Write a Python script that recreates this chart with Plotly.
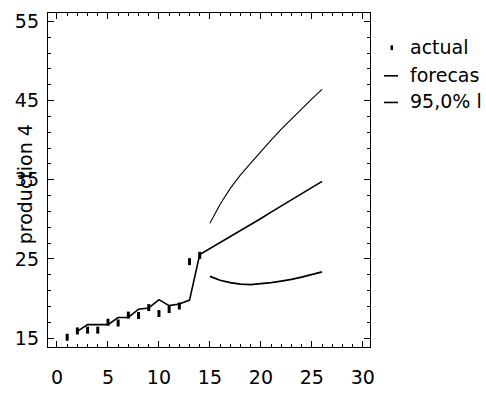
import plotly.graph_objects as go

# ---- data ----
actual_x = [1, 2, 3, 4, 5, 6, 7, 8, 9, 10, 11, 12, 13, 14]
actual_y = [15.1, 15.9, 16.0, 16.0, 17.0, 16.9, 17.9, 17.85, 18.85, 18.1, 18.6, 19.05, 24.65, 25.45]

forecast_x = [2, 3, 4, 5, 6, 7, 8, 9, 10, 11, 12, 13, 14,
              15, 16, 17, 18, 19, 20, 21, 22, 23, 24, 25, 26]
forecast_y = [15.85, 16.7, 16.7, 16.7, 17.6, 17.6, 18.65, 18.8, 19.85, 19.1, 19.3, 19.8, 25.55,
              26.3, 27.0, 27.8, 28.6, 29.3, 30.1, 30.9, 31.7, 32.5, 33.2, 34.0, 34.8]

limit_x = [15, 16, 17, 18, 19, 20, 21, 22, 23, 24, 25, 26]
upper_y = [29.5, 31.9, 33.9, 35.6, 37.1, 38.6, 40.0, 41.4, 42.7, 44.0, 45.2, 46.4]
lower_y = [22.8, 22.3, 22.0, 21.8, 21.75, 21.85, 22.0, 22.2, 22.4, 22.7, 23.0, 23.35]

x_ticks = [0, 5, 10, 15, 20, 25, 30]
y_ticks = [15, 25, 35, 45, 55]
legend_labels = ["actual", "forecas", "95,0% l"]  # as visible (truncated) in the reference
y_title = "production 4"

FONT = "DejaVu Sans"
W, H = 486, 398
L, R, T, B = 48, 116, 10, 37
PW, PH = W - L - R, H - T - B

def px(xp):
    return (xp - L) / PW

def py(yp):
    return (H - B - yp) / PH

fig = go.Figure()
fig.add_trace(go.Scatter(x=actual_x, y=actual_y, mode="markers",
                         marker=dict(symbol="line-ns", size=5, line=dict(width=3, color="black"), color="black"),
                         showlegend=False))
fig.add_trace(go.Scatter(x=forecast_x, y=forecast_y, mode="lines",
                         line=dict(color="black", width=1.6), showlegend=False))
fig.add_trace(go.Scatter(x=limit_x, y=upper_y, mode="lines",
                         line=dict(color="black", width=1.1), showlegend=False))
fig.add_trace(go.Scatter(x=limit_x, y=lower_y, mode="lines",
                         line=dict(color="black", width=1.8), showlegend=False))

axis_common = dict(showgrid=False, zeroline=False, showline=True, linecolor="black", linewidth=1.3,
                   mirror="allticks", ticks="inside", ticklen=6, tickwidth=1.2, tickcolor="black",
                   tickfont=dict(family=FONT, size=19, color="black"))

fig.update_xaxes(range=[-0.88, 30.7], tickvals=x_ticks, ticktext=[str(v) for v in x_ticks],
                 minor=dict(dtick=1, tick0=0, ticks="inside", ticklen=3, tickcolor="black", tickwidth=1),
                 ticklabelstandoff=13, **axis_common)
fig.update_yaxes(range=[13.87, 56.06], tickvals=y_ticks, ticktext=[str(v) for v in y_ticks],
                 minor=dict(dtick=2, tick0=15, ticks="inside", ticklen=3, tickcolor="black", tickwidth=1),
                 ticklabelstandoff=4, **axis_common)

annotations = [
    dict(text=y_title, x=px(25), y=py(190), xref="paper", yref="paper", textangle=-90,
         showarrow=False, font=dict(family=FONT, size=19, color="black"), xanchor="center", yanchor="middle"),
]
leg_y = [46, 75, 103]
for lab, yy in zip(legend_labels, leg_y):
    annotations.append(dict(text=lab, x=px(408), y=py(yy), xref="paper", yref="paper", showarrow=False,
                            xanchor="left", yanchor="middle", font=dict(family=FONT, size=19, color="black")))

shapes = [
    dict(type="rect", xref="paper", yref="paper", x0=px(390.5), x1=px(393), y0=py(49), y1=py(44),
         fillcolor="black", line=dict(width=0)),
    dict(type="line", xref="paper", yref="paper", x0=px(384), x1=px(398), y0=py(76), y1=py(76),
         line=dict(color="black", width=1.6)),
    dict(type="line", xref="paper", yref="paper", x0=px(384), x1=px(398), y0=py(104), y1=py(104),
         line=dict(color="black", width=1.6)),
]

fig.update_layout(width=W, height=H, margin=dict(l=L, r=R, t=T, b=B, pad=0),
                  paper_bgcolor="white", plot_bgcolor="white",
                  annotations=annotations, shapes=shapes, showlegend=False)

fig.write_html("out.html")
